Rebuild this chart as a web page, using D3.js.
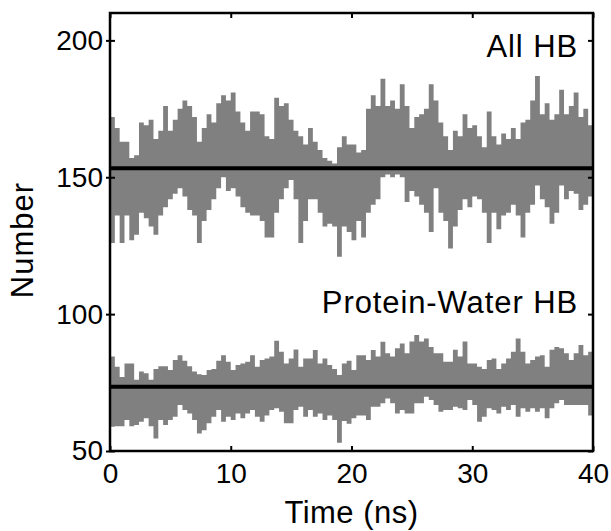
<!DOCTYPE html>
<html>
<head>
<meta charset="utf-8">
<script src="https://cdn.jsdelivr.net/npm/d3@7"></script>
<style>
  body { margin: 0; background: #fff; }
  text { font-family: "Liberation Sans", Arial, Helvetica, sans-serif; fill: #000; }
</style>
</head>
<body>
<div id="chart"></div>
<script>
// Time grid: one bin every 0.4 ns over 0..40 ns
const timeNs = d3.range(0, 40, 0.4);

// All HB: upper and lower edge of the noisy trace in each bin
const allHBHigh = [
  172,168,163,163,157,158,170,169,171,164,
  167,176,167,171,175,178,176,172,163,168,
  173,170,177,180,178,181,174,170,167,174,
  174,173,165,164,179,176,177,171,167,165,
  162,168,163,160,157,156,155,161,165,162,
  162,159,160,175,180,176,186,176,178,175,
  184,176,168,172,173,175,184,178,170,165,
  160,167,165,173,168,169,165,161,174,165,
  162,166,164,168,164,170,171,178,187,173,
  177,171,173,182,173,176,181,172,175,169
];
const allHBLow = [
  126,136,126,136,127,129,137,135,132,129,
  136,139,142,144,146,143,138,136,126,134,
  138,142,146,150,145,146,143,139,137,136,
  136,134,128,128,137,142,146,149,142,126,
  134,142,142,137,132,133,132,121,132,130,
  127,134,128,137,140,142,150,151,150,151,
  150,141,145,143,140,137,130,146,137,134,
  124,132,138,142,139,143,142,137,126,137,
  131,136,137,140,136,128,137,140,147,142,
  139,133,137,147,142,145,144,138,140,143
];

// Protein-Water HB
const pwHBHigh = [
  84.5,80.8,77,82,82,76,79,78.4,76,80,
  81,81,79.6,83.2,85,83,81,79,78,77.8,
  79.6,80,83,85,82.6,79.6,81.4,82,82.6,85,
  80.8,83.2,83.8,84.5,90.3,86.3,82,83.8,87.1,80.8,
  83.8,83.8,86.9,82,83.8,81.4,80,77.8,82,83,
  79.6,85,85,83.2,86.9,84.5,89.9,85.7,84.5,87.5,
  89.3,85.7,90,92.4,90,91.1,88,85.7,85.7,82.6,
  82.6,87,84.5,90,82,82,80.8,80,83.2,83.8,
  80,82,83.8,86.3,91.1,86.3,82,83.2,84.5,85,
  80.8,87,88,87.5,85.7,83.2,85.7,88.7,85,86.3
];
const pwHBLow = [
  58.9,59,59,61.3,59,59.5,60.7,62,59,54.6,
  61.3,59.5,61.3,62.5,66.8,65,63.7,61.3,56.4,57.6,
  60.1,62.5,65,60.7,62.5,61.3,63.7,62,63.7,65,
  62.5,60.7,63,65,65.6,64.3,60.1,60.1,65,66.2,
  62.5,65,62.5,63.7,61.3,63,61.3,53,61,60,
  62,63,63,61.3,66.2,66.2,67.4,69.2,67.4,63.7,
  65,63.7,63.7,67.4,67.4,69.8,68.6,66.8,64.3,65,
  65,66.2,65.6,65,68.6,66.8,60.7,62.5,65.6,65,
  63.7,66.2,65,66.8,62.5,65.6,64.3,65.6,64.3,65.6,
  62,65.6,67.4,68.6,66.8,66.8,66.8,66.8,66.8,63
];

// Average values (black lines)
const meanNames = ["All HB", "Protein-Water HB"];
const meanValues = [153.3, 73.5];

const xTicks = [0, 10, 20, 30, 40];
const yTicks = [50, 100, 150, 200];

const width = 611, height = 531;
const margin = {top: 13, right: 18, bottom: 80, left: 110};

const svg = d3.select("#chart")
  .append("svg")
  .attr("width", width)
  .attr("height", height);

const x = d3.scaleLinear().domain([0, 40]).range([margin.left, width - margin.right]);
const y = d3.scaleLinear().domain([50, 210]).range([height - margin.bottom, margin.top]);

// build rows for an area, closing the last step at t = 40
function rows(hi, lo) {
  const r = timeNs.map((t, i) => ({t: t, hi: hi[i], lo: lo[i]}));
  r.push({t: 40, hi: hi[hi.length - 1], lo: lo[lo.length - 1]});
  return r;
}

const band = d3.area()
  .curve(d3.curveStepAfter)
  .x(d => x(d.t))
  .y0(d => y(d.lo))
  .y1(d => y(d.hi));

[[allHBHigh, allHBLow], [pwHBHigh, pwHBLow]].forEach(s => {
  svg.append("path")
    .datum(rows(s[0], s[1]))
    .attr("fill", "#808080")
    .attr("d", band);
});

// mean lines
svg.selectAll(".mean")
  .data(meanValues)
  .enter()
  .append("line")
  .attr("class", "mean")
  .attr("x1", x(0))
  .attr("x2", x(40))
  .attr("y1", d => y(d))
  .attr("y2", d => y(d))
  .attr("stroke", "#000")
  .attr("stroke-width", 4);

// axes
const fontSize = 28;
const gx = svg.append("g")
  .attr("transform", `translate(0,${y(50)})`)
  .call(d3.axisBottom(x).tickValues(xTicks).tickSizeInner(-5).tickSizeOuter(0).tickPadding(12));
const gy = svg.append("g")
  .attr("transform", `translate(${x(0)},0)`)
  .call(d3.axisLeft(y).tickValues(yTicks).tickSizeInner(-5).tickSizeOuter(0).tickPadding(7));
const gt = svg.append("g")
  .attr("transform", `translate(0,${y(210)})`)
  .call(d3.axisTop(x).tickValues(xTicks).tickSizeInner(-5).tickSizeOuter(0).tickFormat(""));
const gr = svg.append("g")
  .attr("transform", `translate(${x(40)},0)`)
  .call(d3.axisRight(y).tickValues(yTicks).tickSizeInner(-5).tickSizeOuter(0).tickFormat(""));

// left ticks poke out a little
gy.selectAll(".tick line").attr("x1", -4).attr("x2", 5);

[gx, gy, gt, gr].forEach(g => {
  g.select(".domain").remove();
  g.selectAll(".tick line").attr("stroke", "#000").attr("stroke-width", 2);
  g.selectAll("text")
    .style("font-size", fontSize + "px")
    .style("font-family", "'Liberation Sans', Arial, Helvetica, sans-serif")
    .attr("fill", "#000");
});

// frame
svg.append("rect")
  .attr("x", x(0))
  .attr("y", y(210))
  .attr("width", x(40) - x(0))
  .attr("height", y(50) - y(210))
  .attr("fill", "none")
  .attr("stroke", "#000")
  .attr("stroke-width", 2.5);

// series labels
svg.selectAll(".label")
  .data(meanNames)
  .enter()
  .append("text")
  .attr("class", "label")
  .attr("x", 578)
  .attr("y", (d, i) => i === 0 ? 57 : 313)
  .attr("text-anchor", "end")
  .style("font-size", "31px")
  .style("letter-spacing", "0.9px")
  .text(d => d);

// axis titles
svg.append("text")
  .attr("x", (x(0) + x(40)) / 2)
  .attr("y", 523)
  .attr("text-anchor", "middle")
  .style("font-size", "31px")
  .style("letter-spacing", "0.5px")
  .text("Time (ns)");

svg.append("text")
  .attr("transform", "translate(33,240) rotate(-90)")
  .attr("text-anchor", "middle")
  .style("font-size", "31px")
  .style("letter-spacing", "1px")
  .text("Number");
</script>
</body>
</html>
